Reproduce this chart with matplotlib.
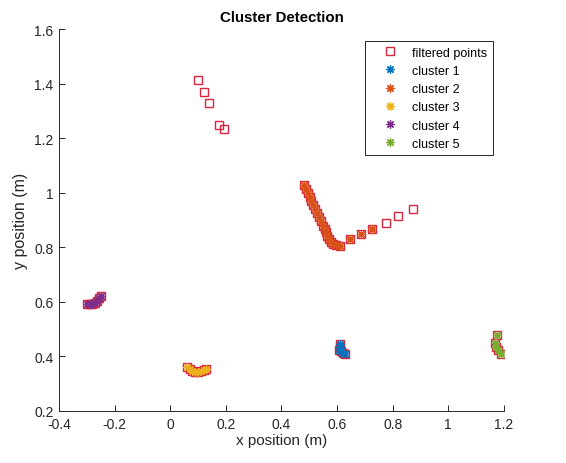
# coding:utf-8
import numpy as np
import matplotlib.pyplot as plt

plt.rcParams['font.family'] = ['Liberation Sans', 'DejaVu Sans']

# points that were filtered but not part of any cluster
extra_x = [0.10, 0.12, 0.14, 0.175, 0.195, 0.775, 0.82, 0.875]
extra_y = [1.415, 1.37, 1.33, 1.248, 1.232, 0.89, 0.915, 0.94]

c1_x = [0.61, 0.612, 0.608, 0.615, 0.62, 0.628]
c1_y = [0.445, 0.435, 0.425, 0.42, 0.412, 0.408]

c2_x = [0.48, 0.488, 0.495, 0.502, 0.508, 0.515, 0.522, 0.528, 0.535, 0.542,
        0.548, 0.555, 0.56, 0.565, 0.57, 0.578, 0.585, 0.595, 0.61, 0.645,
        0.685, 0.725]
c2_y = [1.03, 1.015, 1.0, 0.985, 0.97, 0.955, 0.94, 0.925, 0.91, 0.895,
        0.88, 0.868, 0.855, 0.843, 0.832, 0.82, 0.812, 0.81, 0.805, 0.83,
        0.85, 0.868]

c3_x = [0.06, 0.07, 0.08, 0.09, 0.10, 0.11, 0.12, 0.13]
c3_y = [0.362, 0.355, 0.348, 0.344, 0.343, 0.345, 0.35, 0.355]

c4_x = [-0.30, -0.29, -0.28, -0.27, -0.262, -0.256, -0.25]
c4_y = [0.592, 0.592, 0.592, 0.596, 0.605, 0.614, 0.622]

c5_x = [1.175, 1.168, 1.172, 1.178, 1.188]
c5_y = [0.48, 0.45, 0.435, 0.422, 0.41]

clusters = [(c1_x, c1_y), (c2_x, c2_y), (c3_x, c3_y), (c4_x, c4_y), (c5_x, c5_y)]
colors = ['#0072BD', '#D95319', '#EDB120', '#7E2F8E', '#77AC30']

fig = plt.figure(figsize=(5.66, 4.64), dpi=100)
ax = fig.add_axes([0.1042, 0.1121, 0.786, 0.823])

all_x = extra_x + sum([c[0] for c in clusters], [])
all_y = extra_y + sum([c[1] for c in clusters], [])
ax.plot(all_x, all_y, 's', mfc='none', mec='#D7263D', ms=6, mew=1.0,
        label='filtered points')
for i, (cx, cy) in enumerate(clusters):
    ax.plot(cx, cy, marker=(8, 2, 0), ls='none', color=colors[i], ms=6,
            mew=0.9, label='cluster %d' % (i + 1))

ax.set_xlim(-0.4, 1.2)
ax.set_ylim(0.2, 1.6)
ax.set_xticks(np.arange(-0.4, 1.21, 0.2))
ax.set_yticks(np.arange(0.2, 1.61, 0.2))
ax.set_xticklabels(['-0.4', '-0.2', '0', '0.2', '0.4', '0.6', '0.8', '1', '1.2'])
ax.set_yticklabels(['0.2', '0.4', '0.6', '0.8', '1', '1.2', '1.4', '1.6'])
ax.spines['top'].set_visible(False)
ax.spines['right'].set_visible(False)
for s in ['left', 'bottom']:
    ax.spines[s].set_color('#262626')
    ax.spines[s].set_linewidth(0.7)
ax.tick_params(direction='in', length=4, width=0.7, colors='#262626',
               labelsize=10, pad=4)

ax.set_title('Cluster Detection', fontsize=10.8, fontweight='bold', pad=6)
ax.set_xlabel('x position (m)', fontsize=11, color='#262626', labelpad=2)
ax.set_ylabel('y position (m)', fontsize=11.5, color='#262626', labelpad=4)

leg = ax.legend(loc='upper right', bbox_to_anchor=(0.975, 0.969),
                borderaxespad=0, fontsize=9, fancybox=False, framealpha=1,
                edgecolor='#262626', borderpad=0.45, labelspacing=0.5,
                handlelength=3.1, handletextpad=0.2)
leg.get_frame().set_linewidth(0.7)

fig.savefig('out.png', dpi=100)
